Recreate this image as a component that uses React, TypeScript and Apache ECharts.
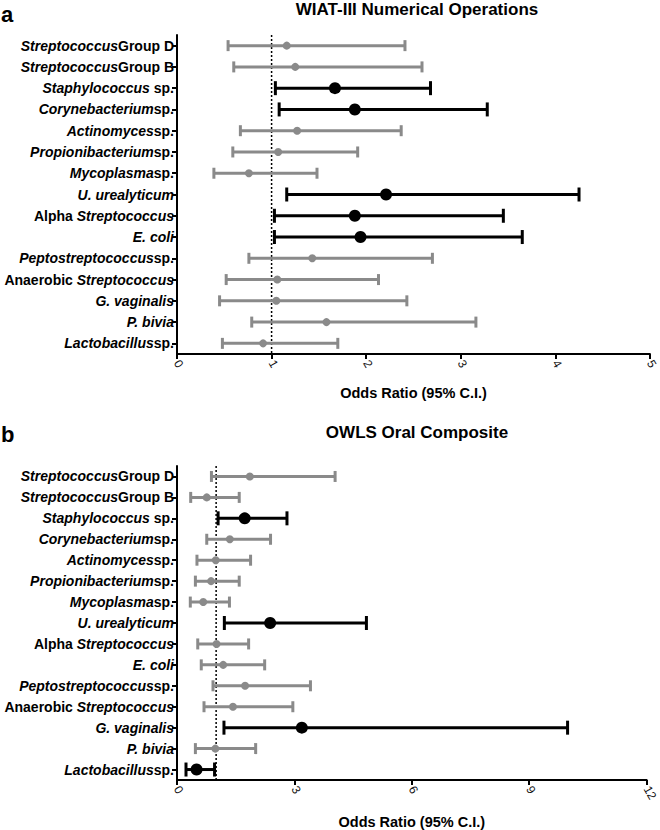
import React, { useEffect, useRef } from "react";
import * as echarts from "echarts";

const categories = [
  "{i|Streptococcus}{n|Group D}",
  "{i|Streptococcus}{n|Group B}",
  "{i|Staphylococcus}{n| sp.}",
  "{i|Corynebacterium}{n|sp.}",
  "{i|Actinomyces}{n|sp.}",
  "{i|Propionibacterium}{n|sp.}",
  "{i|Mycoplasma}{n|sp.}",
  "{i|U. urealyticum}",
  "{n|Alpha }{i|Streptococcus}",
  "{i|E. coli}",
  "{i|Peptostreptococcus}{n|sp.}",
  "{n|Anaerobic }{i|Streptococcus}",
  "{i|G. vaginalis}",
  "{i|P. bivia}",
  "{i|Lactobacillus}{n|sp.}",
];

const topEstimate = [1.16, 1.25, 1.67, 1.88, 1.27, 1.07, 0.76, 2.21, 1.88, 1.94, 1.43, 1.06, 1.05, 1.58, 0.91];
const topLower = [0.54, 0.6, 1.04, 1.08, 0.67, 0.59, 0.39, 1.16, 1.03, 1.03, 0.76, 0.52, 0.45, 0.79, 0.48];
const topUpper = [2.41, 2.59, 2.68, 3.28, 2.37, 1.91, 1.48, 4.25, 3.45, 3.65, 2.7, 2.13, 2.43, 3.16, 1.7];
const topSignificant = [0, 0, 1, 1, 0, 0, 0, 1, 1, 1, 0, 0, 0, 0, 0];

const bottomEstimate = [1.86, 0.76, 1.73, 1.35, 0.99, 0.87, 0.67, 2.38, 1.01, 1.18, 1.74, 1.43, 3.19, 0.98, 0.5];
const bottomLower = [0.88, 0.35, 1.05, 0.76, 0.51, 0.47, 0.34, 1.21, 0.53, 0.62, 0.92, 0.69, 1.2, 0.47, 0.23];
const bottomUpper = [4.04, 1.59, 2.81, 2.39, 1.88, 1.59, 1.34, 4.84, 1.83, 2.24, 3.41, 2.96, 9.98, 2.01, 0.96];
const bottomSignificant = [0, 0, 1, 0, 0, 0, 0, 1, 0, 0, 0, 0, 1, 0, 1];

const topTitle = "WIAT-III Numerical Operations";
const bottomTitle = "OWLS Oral Composite";
const axisName = "Odds Ratio (95% C.I.)";
const referenceValue = 1;

const FONT = '"Liberation Sans", Arial, sans-serif';
const GRAY = "#8a8a8a";

function buildData(lo: number[], est: number[], hi: number[], sig: number[]) {
  return est.map((e, i) => [lo[i], e, hi[i], i, sig[i]]);
}

function renderItem(params: any, api: any) {
  const idx = api.value(3);
  const sig = api.value(4) === 1;
  const lo = api.coord([api.value(0), idx]);
  const est = api.coord([api.value(1), idx]);
  const hi = api.coord([api.value(2), idx]);
  const color = sig ? "#000" : GRAY;
  const cap = sig ? 7 : 5.5;
  const r = sig ? 6 : 4;
  const children: any[] = [];
  if (params.dataIndex === 0) {
    const cs = params.coordSys;
    const rx = api.coord([referenceValue, 0])[0];
    children.push({
      type: "line",
      shape: { x1: rx, y1: cs.y, x2: rx, y2: cs.y + cs.height },
      style: { stroke: "#000", lineWidth: 1.5, lineDash: [2, 2] },
      z2: 0,
    });
  }
  children.push(
    { type: "line", shape: { x1: lo[0], y1: lo[1], x2: hi[0], y2: hi[1] }, style: { stroke: color, lineWidth: 3 }, z2: 5 },
    { type: "line", shape: { x1: lo[0], y1: lo[1] - cap, x2: lo[0], y2: lo[1] + cap }, style: { stroke: color, lineWidth: 3 }, z2: 5 },
    { type: "line", shape: { x1: hi[0], y1: hi[1] - cap, x2: hi[0], y2: hi[1] + cap }, style: { stroke: color, lineWidth: 3 }, z2: 5 },
    { type: "circle", shape: { cx: est[0], cy: est[1], r }, style: { fill: color }, z2: 6 }
  );
  return { type: "group", children };
}

function xAxisFor(gridIndex: number, max: number, interval: number, nameGap: number) {
  return {
    type: "value",
    gridIndex,
    min: 0,
    max,
    interval,
    name: axisName,
    nameLocation: "middle",
    nameGap,
    nameTextStyle: { fontFamily: FONT, fontWeight: "bold", fontSize: 14.5, color: "#000" },
    axisLine: { show: true, lineStyle: { color: "#000", width: 2 } },
    axisTick: { show: true, length: 5, lineStyle: { color: "#000", width: 2 } },
    splitLine: { show: false },
    axisLabel: { rotate: -60, fontSize: 12, fontFamily: FONT, color: "#111", margin: 7 },
  };
}

function yAxisFor(gridIndex: number) {
  return {
    type: "category",
    gridIndex,
    data: categories,
    inverse: true,
    axisLine: { show: true, lineStyle: { color: "#000", width: 2 } },
    axisTick: { show: true, alignWithLabel: true, length: 5, lineStyle: { color: "#000", width: 2 } },
    axisLabel: {
      margin: 3,
      fontSize: 14,
      fontFamily: FONT,
      fontWeight: "bold",
      color: "#000",
      rich: {
        i: { fontStyle: "italic", fontWeight: "bold", fontSize: 14, fontFamily: FONT, color: "#000" },
        n: { fontWeight: "bold", fontSize: 14, fontFamily: FONT, color: "#000" },
      },
    },
  };
}

export default function App() {
  const ref = useRef<HTMLDivElement>(null);
  useEffect(() => {
    document.body.style.margin = "0";
    if (!ref.current) return;
    const chart = echarts.init(ref.current, null, { renderer: "svg" });
    chart.setOption({
      animation: false,
      backgroundColor: "#fff",
      grid: [
        { left: 177, top: 35, width: 480, height: 319 },
        { left: 177, top: 466, width: 480, height: 318 },
      ],
      xAxis: [xAxisFor(0, 5, 1, 31), xAxisFor(1, 12, 3, 34)],
      yAxis: [yAxisFor(0), yAxisFor(1)],
      series: [
        {
          type: "custom",
          xAxisIndex: 0,
          yAxisIndex: 0,
          renderItem,
          encode: { x: [0, 1, 2], y: 3 },
          data: buildData(topLower, topEstimate, topUpper, topSignificant),
          clip: false,
        },
        {
          type: "custom",
          xAxisIndex: 1,
          yAxisIndex: 1,
          renderItem,
          encode: { x: [0, 1, 2], y: 3 },
          data: buildData(bottomLower, bottomEstimate, bottomUpper, bottomSignificant),
          clip: false,
        },
      ],
      graphic: [
        { type: "text", x: 417, y: 9, style: { text: topTitle, font: `bold 17px ${FONT}`, fill: "#000", align: "center", verticalAlign: "middle", textAlign: "center", textVerticalAlign: "middle" } },
        { type: "text", x: 417, y: 432, style: { text: bottomTitle, font: `bold 17px ${FONT}`, fill: "#000", align: "center", verticalAlign: "middle", textAlign: "center", textVerticalAlign: "middle" } },
        { type: "text", x: 1, y: 14, style: { text: "a", font: `bold 22px ${FONT}`, fill: "#000", verticalAlign: "middle", textVerticalAlign: "middle" } },
        { type: "text", x: 1, y: 434, style: { text: "b", font: `bold 22px ${FONT}`, fill: "#000", verticalAlign: "middle", textVerticalAlign: "middle" } },
      ],
    });
    return () => chart.dispose();
  }, []);
  return <div ref={ref} style={{ width: 660, height: 830 }} />;
}
